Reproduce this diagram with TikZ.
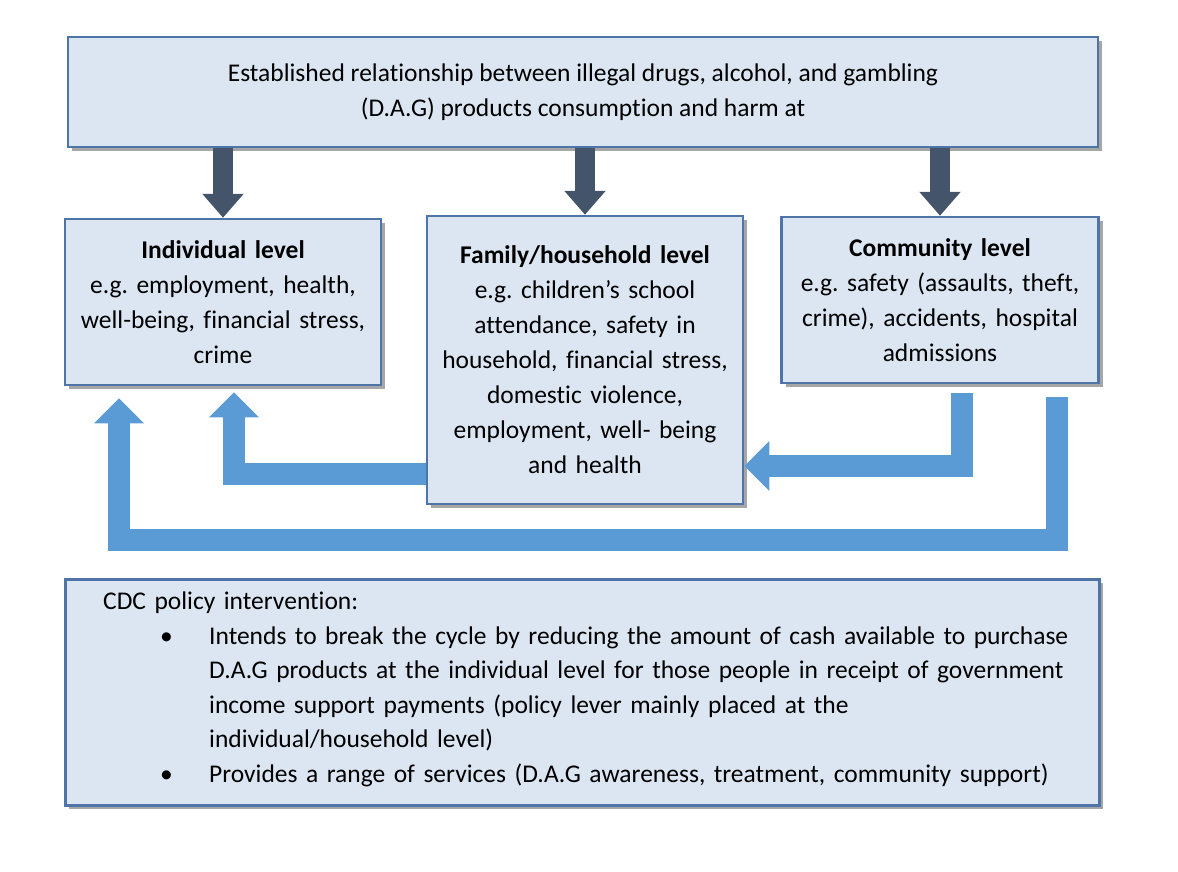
\documentclass[tikz,border=0pt]{standalone}
\usepackage{fontspec}
\setmainfont[Ligatures={NoCommon}]{Carlito}
\frenchspacing
\usetikzlibrary{shadows,arrows.meta}
\definecolor{boxfill}{HTML}{DCE6F2}
\definecolor{boxline}{HTML}{4F75A8}
\definecolor{darkarr}{HTML}{44546A}
\definecolor{bluearr}{HTML}{5B9BD5}
\tikzset{
  box/.style={draw=boxline,line width=2.5pt,fill=boxfill,align=center,inner sep=4pt,
    font=\fontsize{25.5}{35}\selectfont,
    drop shadow={shadow xshift=4pt,shadow yshift=-4pt,opacity=0.35,fill=black}},
  darrow/.style={draw=darkarr,line width=20pt,-{Triangle[width=40pt,length=24pt]}},
  barrow/.style={draw=bluearr,line width=22pt,line join=miter,-{Triangle[width=48pt,length=25pt]}}
}
\begin{document}
\begin{tikzpicture}[x=1pt,y=-1pt]
\useasboundingbox (0,0) rectangle (1178,871);
\node[box,minimum width=1030pt,minimum height=110pt] (top) at (583,92)
  {Established relationship between illegal drugs, alcohol, and gambling\\(D.A.G) products consumption and harm at};
\node[box,minimum width=316pt,minimum height=166pt,text width=305pt] (ind) at (223,302)
  {\textbf{Individual level}\\e.g. employment, health,\\well-being, financial stress,\\crime};
\node[box,minimum width=316pt,minimum height=288pt,text width=305pt] (fam) at (585,360)
  {\textbf{Family/household level}\\e.g. children’s school\\attendance, safety in\\household, financial stress,\\domestic violence,\\employment, well- being\\and health};
\node[box,minimum width=317pt,minimum height=166pt,text width=305pt] (com) at (940,300)
  {\textbf{Community level}\\e.g. safety (assaults, theft,\\crime), accidents, hospital\\admissions};
\node[box,minimum width=1034pt,minimum height=226pt,anchor=north west,inner sep=0pt] (pol) at (64,578)
  {};
\node[anchor=north west,inner sep=0pt,text width=1000pt,font=\fontsize{25.5}{34.5}\selectfont] (poltext) at (103,592)
  {CDC policy intervention:
  \begin{list}{}{\leftmargin=106pt\labelwidth=49pt\labelsep=0pt\itemsep=0pt\parsep=0pt\topsep=0pt\partopsep=0pt
   \renewcommand\makelabel[1]{\hbox to 49pt{•\hfil}}}
  \item Intends to break the cycle by reducing the amount of cash available to purchase\newline
  D.A.G products at the individual level for those people in receipt of government\newline
  income support payments (policy lever mainly placed at the\newline
  individual/household level)
  \item Provides a range of services (D.A.G awareness, treatment, community support)
  \end{list}};
% dark arrows
\draw[darrow] (top.south -| ind) -- (ind.north);
\draw[darrow] (top.south -| fam) -- (fam.north);
\draw[darrow] (top.south -| com) -- (com.north);
% blue arrows
\draw[barrow] (fam.west |- 0,474) -- (234,474) -- ([yshift=-6pt]ind.south -| 234,0);
\draw[barrow] (962,393) |- (fam.east |- 0,466);
\draw[barrow] (1057,397) -- (1057,540) -- (119,540) -- ([yshift=-12pt]ind.south -| 119,0);
\end{tikzpicture}
\end{document}
